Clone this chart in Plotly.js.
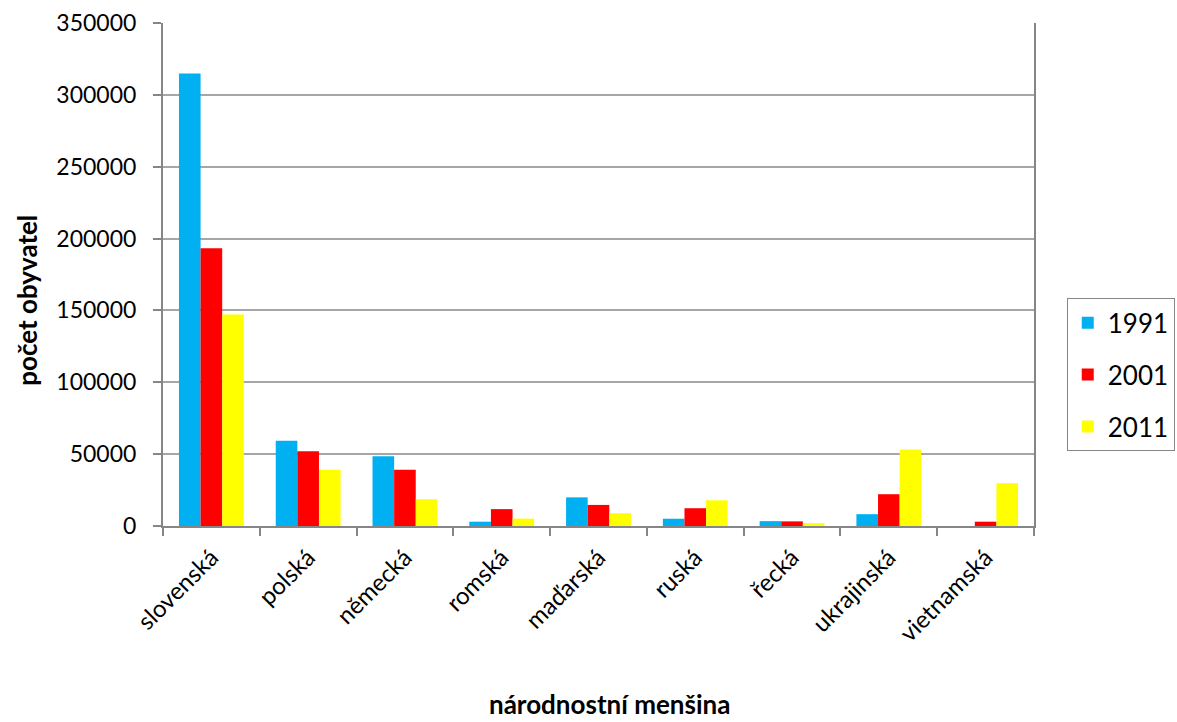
<!DOCTYPE html>
<html>
<head>
<meta charset="utf-8">
<script src="https://cdn.plot.ly/plotly-3.0.1.min.js"></script>
<style>html,body{margin:0;padding:0;background:#fff;}#chart{width:1177px;height:722px;}</style>
</head>
<body>
<div id="chart"></div>
<script>
const categories = ["slovenská","polská","německá","romská","maďarská","ruská","řecká","ukrajinská","vietnamská"];
const seriesNames = ["1991","2001","2011"];
const values1991 = [314877, 59383, 48556, 3000, 19932, 5062, 3379, 8220, 0];
const values2001 = [193190, 51968, 39106, 11746, 14672, 12369, 3219, 22112, 3000];
const values2011 = [147152, 39096, 18658, 5135, 8920, 17872, 2000, 53253, 29660];
const colors = ["#00B0F0", "#FF0000", "#FFFF00"];
const yTickVals = [0, 50000, 100000, 150000, 200000, 250000, 300000, 350000];
const xTitle = "národnostní menšina";
const yTitle = "počet obyvatel";

const allValues = [values1991, values2001, values2011];
const traces = allValues.map((v, i) => ({
  type: "bar",
  name: seriesNames[i],
  x: categories,
  y: v,
  legendgroup: "g" + i,
  marker: {color: colors[i], line: {width: 0}},
  hoverinfo: "x+y+name"
}));

const FONT = "Lato, 'Open Sans', sans-serif";
const layout = {
  width: 1177, height: 722,
  paper_bgcolor: "#fff", plot_bgcolor: "#fff",
  margin: {l: 163, r: 143, t: 23, b: 196, autoexpand: false},
  font: {family: FONT, color: "#000", size: 22},
  barmode: "group",
  bargap: 0.33,
  bargroupgap: 0,
  showlegend: true,
  legend: {
    x: 1.0376, xanchor: "left", y: 0.4525, yanchor: "top",
    bordercolor: "#868686", borderwidth: 1, bgcolor: "#fff",
    font: {family: FONT, size: 26, color: "#000"},
    traceorder: "grouped", tracegroupgap: 15,
    itemwidth: 30
  },
  xaxis: {
    type: "category",
    showline: true, linecolor: "#868686", linewidth: 2,
    ticks: "outside", tickson: "boundaries", ticklen: 8, tickcolor: "#868686", tickwidth: 2,
    tickangle: -45,
    ticklabelstandoff: 6,
    tickfont: {family: FONT, size: 24, color: "#000"},
    showgrid: false,
    automargin: false
  },
  yaxis: {
    range: [0, 350000],
    tickvals: yTickVals,
    ticktext: yTickVals.map(v => String(v)),
    showline: true, linecolor: "#868686", linewidth: 2, mirror: true,
    ticks: "outside", ticklen: 8, tickcolor: "#868686", tickwidth: 2,
    ticklabelstandoff: 12,
    tickfont: {family: FONT, size: 23, color: "#000"},
    showgrid: true, gridcolor: "#A6A6A6", gridwidth: 2,
    zeroline: false,
    automargin: false
  },
  annotations: [
    {text: "<b>" + xTitle + "</b>", xref: "paper", yref: "paper", x: 0.513, y: -0.353,
     xanchor: "center", yanchor: "middle", showarrow: false,
     font: {family: FONT, size: 26, color: "#000"}},
    {text: "<b>" + yTitle + "</b>", xref: "paper", yref: "paper", x: -0.1557, y: 0.4485,
     xanchor: "center", yanchor: "middle", showarrow: false, textangle: -90,
     font: {family: FONT, size: 26, color: "#000"}}
  ]
};

Plotly.newPlot("chart", traces, layout, {displayModeBar: false, staticPlot: true});
</script>
</body>
</html>
